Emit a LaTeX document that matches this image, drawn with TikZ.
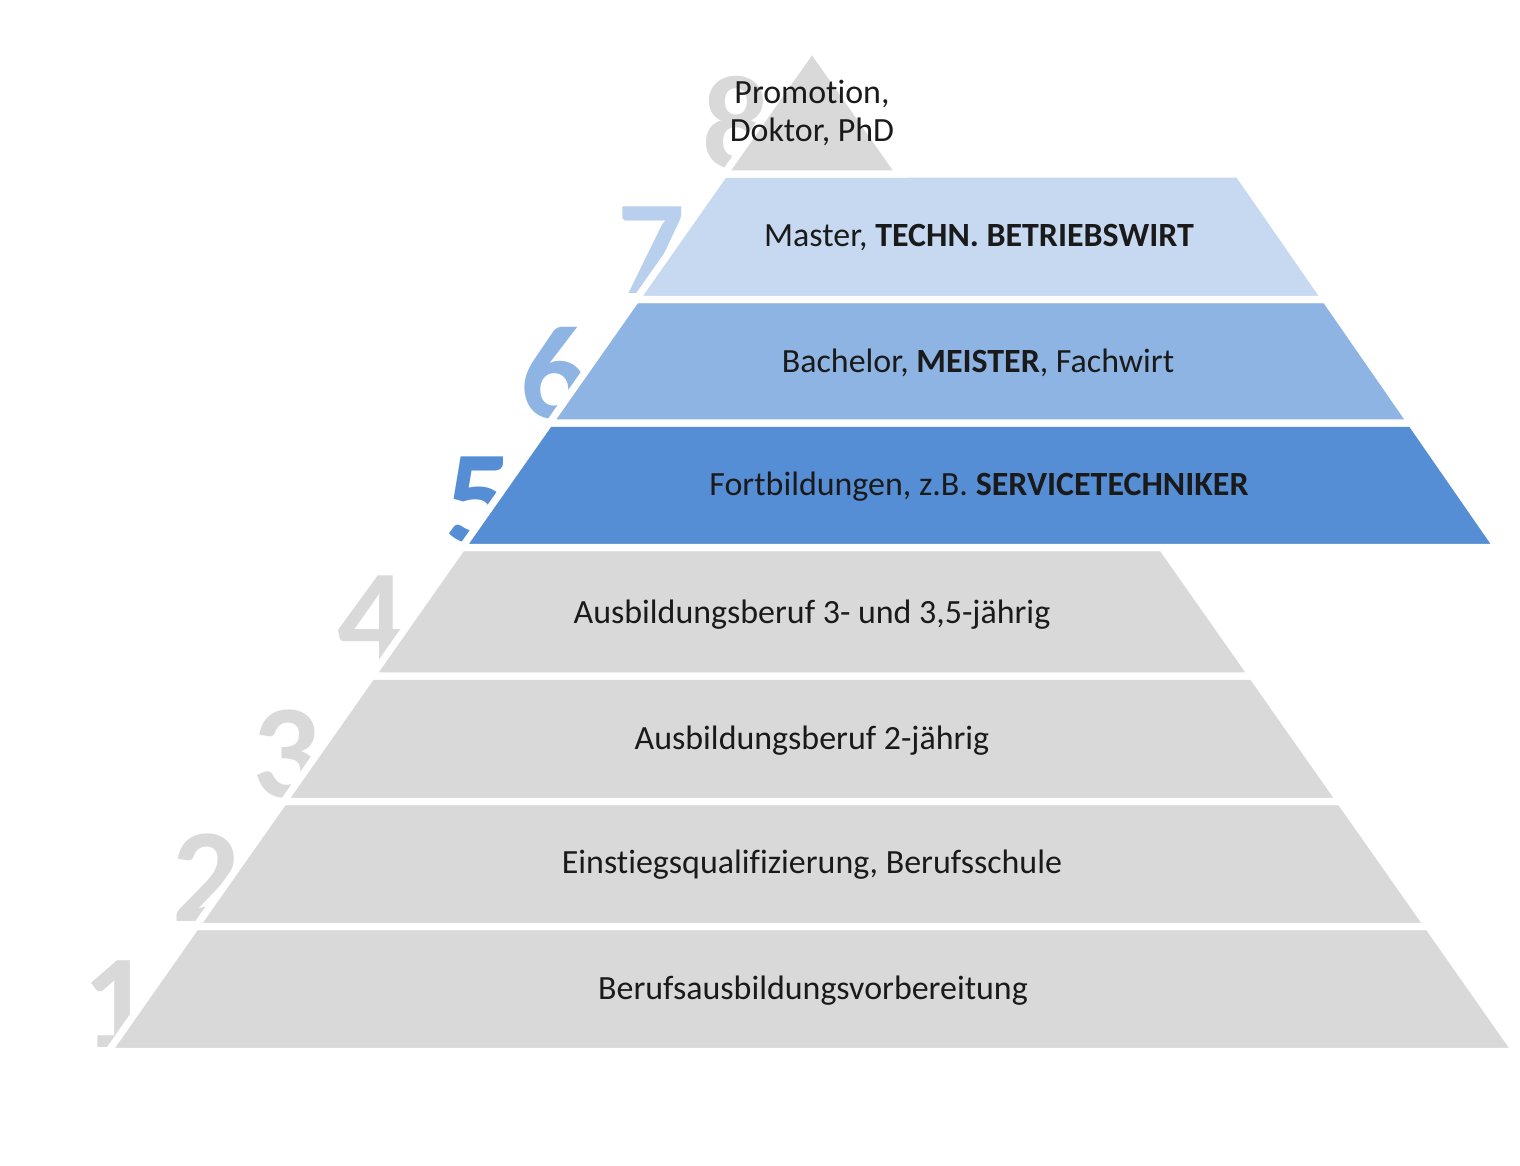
\documentclass[tikz,border=0pt]{standalone}
\usepackage{fontspec}
\setmainfont{Carlito}[Ligatures=NoCommon]
\definecolor{pyrgrey}{HTML}{D9D9D9}
\definecolor{pyrlight}{HTML}{C6D9F1}
\definecolor{pyrlightnum}{HTML}{B9CFEE}
\definecolor{pyrmid}{HTML}{8EB4E3}
\definecolor{pyrdark}{HTML}{558ED5}
\definecolor{pyrtext}{HTML}{1A1A1A}

\begin{document}
\begin{tikzpicture}[x=0.01cm, y=-0.01cm,
    layer/.style={draw=white, line width=2pt, line join=miter},
    stepnum/.style={anchor=base west, inner sep=0pt, font=\fontsize{38}{38}\selectfont\bfseries},
    lbl/.style={font=\fontsize{9.65}{10.6}\selectfont, text=pyrtext, align=center}
  ]
    \useasboundingbox (0,0) rectangle (1520,1166);

    % Step numbers, drawn first so the layers cover them
    \node[stepnum, text=pyrgrey]     (n1) at (82,1047) {1};
    \node[stepnum, text=pyrgrey]     (n2) at (172,921) {2};
    \node[stepnum, text=pyrgrey]     (n3) at (252,797) {3};
    \node[stepnum, text=pyrgrey]     (n4) at (337,662) {4};
    \node[stepnum, text=pyrdark]     (n5) at (445,543) {5};
    \node[stepnum, text=pyrmid]      (n6) at (520,418) {6};
    \node[stepnum, text=pyrlightnum] (n7) at (617,293) {7};
    \node[stepnum, text=pyrgrey]     (n8) at (702,168) {8};

    % Grey layers 1--4
    \filldraw[layer, fill=pyrgrey] (108.2,1051.5) -- (1515.8,1051.5) -- (1428.1,926.5) -- (195.9,926.5) -- cycle;
    \filldraw[layer, fill=pyrgrey] (195.9,926.5) -- (1428.1,926.5) -- (1340.3,801.5) -- (283.7,801.5) -- cycle;
    \filldraw[layer, fill=pyrgrey] (283.7,801.5) -- (1340.3,801.5) -- (1252.2,676) -- (371.8,676) -- cycle;
    \filldraw[layer, fill=pyrgrey] (371.8,676) -- (1252.2,676) -- (1162,547.5) -- (462,547.5) -- cycle;

    % Blue layers 5--7, stretched to the right
    \filldraw[layer, fill=pyrdark]  (462,547.5) -- (1497.4,547.5) -- (1411.1,423) -- (549.4,423) -- cycle;
    \filldraw[layer, fill=pyrmid]   (549.4,423) -- (1411.1,423) -- (1325.5,299.5) -- (636.1,299.5) -- cycle;
    \filldraw[layer, fill=pyrlight] (636.1,299.5) -- (1325.5,299.5) -- (1238.5,174) -- (724.2,174) -- cycle;

    % Top
    \filldraw[layer, fill=pyrgrey] (724.2,174) -- (899.8,174) -- (812,49) -- cycle;

    % Labels
    \node[lbl] (l1) at (813,991) {Berufsausbildungsvorbereitung};
    \node[lbl] (l2) at (812,865) {Einstiegsqualifizierung, Berufsschule};
    \node[lbl] (l3) at (812,741) {Ausbildungsberuf 2-jährig};
    \node[lbl] (l4) at (812,615) {Ausbildungsberuf 3- und 3,5-jährig};
    \node[lbl] (l5) at (979,487) {Fortbildungen, z.B. \textbf{SERVICETECHNIKER}};
    \node[lbl] (l6) at (978,363) {Bachelor, \textbf{MEISTER}, Fachwirt};
    \node[lbl] (l7) at (979,238) {Master, \textbf{TECHN. BETRIEBSWIRT}};
    \node[lbl] (l8) at (812,113) {Promotion,\\Doktor, PhD};
  \end{tikzpicture}
\end{document}
